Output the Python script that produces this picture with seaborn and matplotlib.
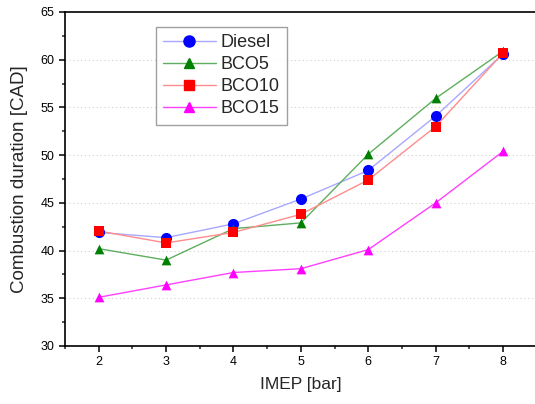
import matplotlib
matplotlib.use("Agg")
import matplotlib.pyplot as plt
from matplotlib.lines import Line2D
from matplotlib.ticker import MultipleLocator
import pandas as pd
import seaborn as sns

# IMEP load points [bar]
imep = [2, 3, 4, 5, 6, 7, 8]

# combustion duration [CAD]
diesel = [41.9, 41.35, 42.8, 45.4, 48.4, 54.1, 60.6]
bco5 = [40.2, 39.0, 42.3, 42.9, 50.1, 55.95, 60.9]
bco10 = [42.05, 40.8, 41.9, 43.8, 47.4, 53.0, 60.7]
bco15 = [35.1, 36.4, 37.7, 38.1, 40.1, 45.0, 50.4]

series = ['Diesel', 'BCO5', 'BCO10', 'BCO15']
values = [diesel, bco5, bco10, bco15]

# marker colour, line colour, marker, marker size
styles = {
    'Diesel': ('#0000ff', '#a8a8ff', 'o', 8),
    'BCO5': ('#008000', '#5fae5f', '^', 7),
    'BCO10': ('#ff0000', '#ff8c8c', 's', 7),
    'BCO15': ('#ff00ff', '#ff40ff', '^', 7),
}

df = pd.DataFrame({
    'IMEP': imep * len(series),
    'duration': [v for vals in values for v in vals],
    'fuel': [s for s in series for _ in imep],
})

sns.set_style('white')
plt.rcParams['font.family'] = ['Liberation Sans', 'DejaVu Sans']

fig = plt.figure(figsize=(5.35, 4.04), dpi=100)
ax = fig.add_axes([0.1215, 0.1436, 0.8818, 0.8267])

for name in series:
    mcol, lcol, mk, ms = styles[name]
    sub = df[df['fuel'] == name]
    sns.lineplot(data=sub, x='IMEP', y='duration', color=lcol, linewidth=1.0,
                 ax=ax, legend=False, zorder=2)
    sns.scatterplot(data=sub, x='IMEP', y='duration', color=mcol, marker=mk,
                    s=ms ** 2, linewidth=0, ax=ax, legend=False, zorder=3)

ax.set_xlim(1.5, 8.5)
ax.set_ylim(30, 65)
ax.xaxis.set_major_locator(MultipleLocator(1))
ax.xaxis.set_minor_locator(MultipleLocator(0.5))
ax.yaxis.set_major_locator(MultipleLocator(5))
ax.yaxis.set_minor_locator(MultipleLocator(2.5))
ax.tick_params(which='major', direction='out', length=4, width=1.1,
               labelsize=9, colors='black', bottom=True, left=True)
ax.tick_params(which='minor', direction='out', length=2.5, width=1.1,
               bottom=True, left=True)

for gy in [35, 40, 45, 50, 55, 60]:
    ax.axhline(gy, color='#d0d0d0', linestyle=(0, (1, 2.5)), linewidth=0.8, zorder=1)

for sp in ax.spines.values():
    sp.set_color('black')
    sp.set_linewidth(1.2)

ax.set_xlabel('IMEP [bar]', fontsize=12.5, labelpad=6)
ax.set_ylabel('Combustion duration [CAD]', fontsize=13.5, labelpad=9)

handles = []
for name in series:
    mcol, lcol, mk, ms = styles[name]
    handles.append(Line2D([], [], color=lcol, linewidth=1.0, marker=mk,
                          markersize=ms, markerfacecolor=mcol,
                          markeredgecolor=mcol))
leg = ax.legend(handles, series, loc='upper left',
                bbox_to_anchor=(156 / 535, 1 - 27 / 404),
                bbox_transform=fig.transFigure, borderaxespad=0,
                fontsize=13, handlelength=2.9, handletextpad=0.3,
                labelspacing=0.28, borderpad=0.4, frameon=True,
                fancybox=False)
leg.get_frame().set_edgecolor('#888888')
leg.get_frame().set_linewidth(1.0)

fig.savefig('out.png', dpi=100)
